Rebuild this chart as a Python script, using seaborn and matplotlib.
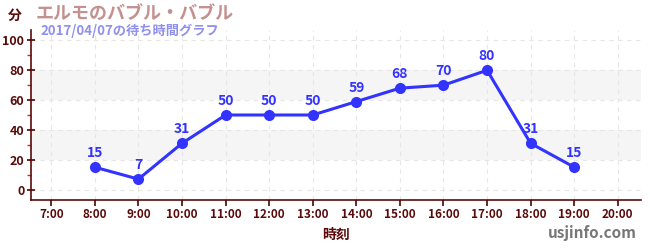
import matplotlib
matplotlib.use("Agg")
import matplotlib.pyplot as plt
import seaborn as sns
import pandas as pd
from matplotlib.ticker import FixedLocator

hours = [8, 9, 10, 11, 12, 13, 14, 15, 16, 17, 18, 19]
waits = [15, 7, 31, 50, 50, 50, 59, 68, 70, 80, 31, 15]
tick_hours = list(range(7, 21))
tick_labels = [f"{h}:00" for h in tick_hours]
title = "エルモのバブル・バブル"
subtitle = "2017/04/07の待ち時間グラフ"

sns.set_theme(style="white")
plt.rcParams['font.family'] = ['Noto Sans CJK JP', 'DejaVu Sans']

df = pd.DataFrame({"hour": hours, "wait": waits})

fig = plt.figure(figsize=(6.5, 2.5), dpi=100)
ax = fig.add_axes([0.048, 0.2, 0.938, 0.68])

dark = "#5a0a0a"
blue = "#3333ff"

for lo, hi in [(20, 40), (60, 80)]:
    ax.axhspan(lo, hi, color="#f5f5f5", zorder=0, lw=0)

sns.lineplot(data=df, x="hour", y="wait", ax=ax, color=blue, lw=2.2,
             marker="o", markersize=8, markeredgewidth=0, zorder=3)

for h, w in zip(hours, waits):
    ax.annotate(str(w), (h, w), xytext=(0, 5), textcoords="offset points",
                ha="center", va="bottom", color=blue, fontsize=10, fontweight="bold")

ax.set_xlim(6.54, 20.53)
ax.set_ylim(-7, 107)
ax.xaxis.set_major_locator(FixedLocator(tick_hours))
ax.set_xticklabels(tick_labels)
ax.yaxis.set_major_locator(FixedLocator([0, 20, 40, 60, 80, 100]))
ax.yaxis.set_minor_locator(FixedLocator([10, 30, 50, 70, 90]))

ax.grid(True, which="major", color="#e6e6e6", linestyle=(0, (4, 4)), lw=0.8)
ax.set_axisbelow(True)

for s in ["top", "right"]:
    ax.spines[s].set_visible(False)
for s in ["left", "bottom"]:
    ax.spines[s].set_color(dark)
    ax.spines[s].set_linewidth(1.2)

ax.tick_params(axis="y", which="major", direction="inout", length=6, color=dark,
               labelsize=9, labelcolor=dark, pad=2, left=True)
ax.tick_params(axis="y", which="minor", direction="out", length=3, color="#dd2222", left=True)
ax.tick_params(axis="x", which="major", direction="out", length=4, color=dark,
               labelsize=8.5, labelcolor=dark, pad=2, bottom=True)
for lab in ax.get_xticklabels() + ax.get_yticklabels():
    lab.set_fontweight("bold")

ax.set_xlabel("時刻", color=dark, fontsize=10, fontweight="bold", labelpad=5)
ax.set_ylabel("")

fig.text(0.012, 0.935, "分", color=dark, fontsize=10, fontweight="bold", va="center")
fig.text(0.055, 0.945, title, color="#c49090", fontsize=13, fontweight="bold", va="center")
fig.text(0.062, 0.875, subtitle, color="#9090ee", fontsize=9.5, fontweight="bold", va="center")
fig.text(0.98, 0.068, "usjinfo.com", color="#777777", fontsize=11, fontweight="bold",
         ha="right", va="center")

fig.savefig("out.png", dpi=100)
